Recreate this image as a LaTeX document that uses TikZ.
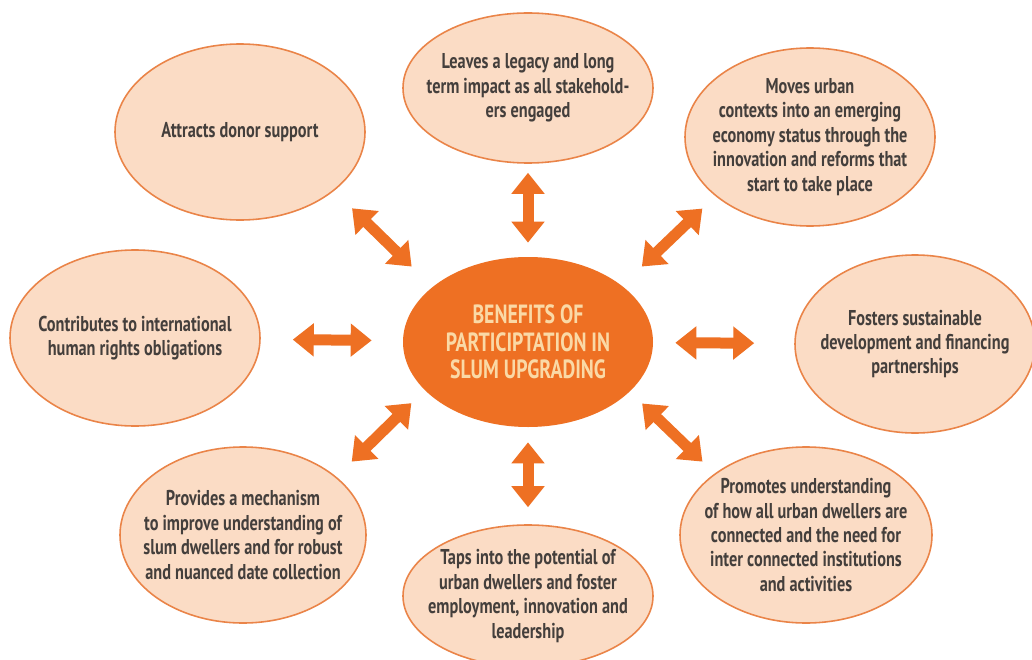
\documentclass[tikz,border=0pt]{standalone}
\usepackage{fontspec}
\setmainfont{PT Sans}[FakeStretch=0.76]
\newfontfamily\hubfont{PT Sans}[FakeStretch=0.75]
\usepackage{tikz}
\usepackage{xcolor}
\usetikzlibrary{shapes.geometric, arrows.meta}

\definecolor{huborange}{RGB}{238,112,35}
\definecolor{hubtext}{RGB}{250,217,166}
\definecolor{petal}{RGB}{251,220,197}
\definecolor{petalline}{RGB}{234,132,72}
\definecolor{petaltext}{RGB}{68,63,60}

\tikzset{
  benefit/.style={ellipse, draw=petalline, line width=0.9pt, fill=petal, text=petaltext,
    align=center, inner xsep=-1.5cm, inner ysep=-1.5cm, minimum width=5cm, minimum height=3.52cm,
    font=\bfseries\fontsize{12.2}{13.9}\selectfont},
  hub/.style={ellipse, fill=huborange, text=hubtext, align=center, inner xsep=-1.5cm, inner ysep=-1.5cm,
    minimum width=5cm, minimum height=3.4cm,
    font=\hubfont\bfseries\fontsize{15}{15.5}\selectfont},
  biarrow/.style={draw=huborange, line width=0.22cm,
    {Triangle[length=0.42cm,width=0.64cm]}-{Triangle[length=0.42cm,width=0.64cm]}}
}

\begin{document}
\begin{tikzpicture}
\useasboundingbox (0,0) rectangle (20.64,13.18);
\fill[white] (0,0) rectangle (20.64,13.18);

\node[hub] (hub) at (10.56, 6.34) {BENEFITS OF\\PARTICIPTATION IN\\SLUM UPGRADING};

\node[benefit] (donor) at (4.8, 10.54) {Attracts donor support};
\node[benefit, minimum height=3cm] (legacy) at (10.56, 11.42) {Leaves a legacy and long\\term impact as all stakehold-\\ers engaged};
\node[benefit, minimum height=3.56cm] (moves) at (16.2, 10.44) {Moves urban\\contexts into an emerging\\economy status through the\\innovation and reforms that\\start to take place};
\node[benefit] (rights) at (2.7, 6.42) {Contributes to international\\human rights obligations};
\node[benefit, minimum width=4.8cm, minimum height=3.56cm] (fosters) at (18.3, 6.3) {Fosters sustainable\\development and financing\\partnerships};
\node[benefit, minimum width=4.92cm] (mechanism) at (4.86, 2.48) {Provides a mechanism\\to improve understanding of\\slum dwellers and for robust\\and nuanced date collection};
\node[benefit, minimum height=2.84cm] (taps) at (10.56, 1.26) {Taps into the potential of\\urban dwellers and foster\\employment, innovation and\\leadership};
\node[benefit, minimum width=5.04cm] (promotes) at (16.12, 2.48) {Promotes understanding\\of how all urban dwellers are\\connected and the need for\\inter connected institutions\\and activities};

% two-way links to the hub
\draw[biarrow, shorten <=0.58cm, shorten >=0.5cm] (hub.150) -- (donor.-32);
\draw[biarrow, shorten <=0.28cm, shorten >=0.18cm] (hub) -- (legacy);
\draw[biarrow, shorten <=0.55cm, shorten >=0.36cm] (hub.31) -- (moves.212);
\draw[biarrow, shorten <=0.62cm, shorten >=0.64cm] (hub) -- (rights);
\draw[biarrow, shorten <=0.44cm, shorten >=0.8cm] (hub) -- (fosters);
\draw[biarrow, shorten <=0.37cm, shorten >=0.43cm] (hub.205) -- (mechanism.32);
\draw[biarrow, shorten <=0.3cm, shorten >=0.34cm] (hub) -- (taps);
\draw[biarrow, shorten <=0.34cm, shorten >=0.34cm] (hub.-26) -- (promotes.146);
\end{tikzpicture}
\end{document}
